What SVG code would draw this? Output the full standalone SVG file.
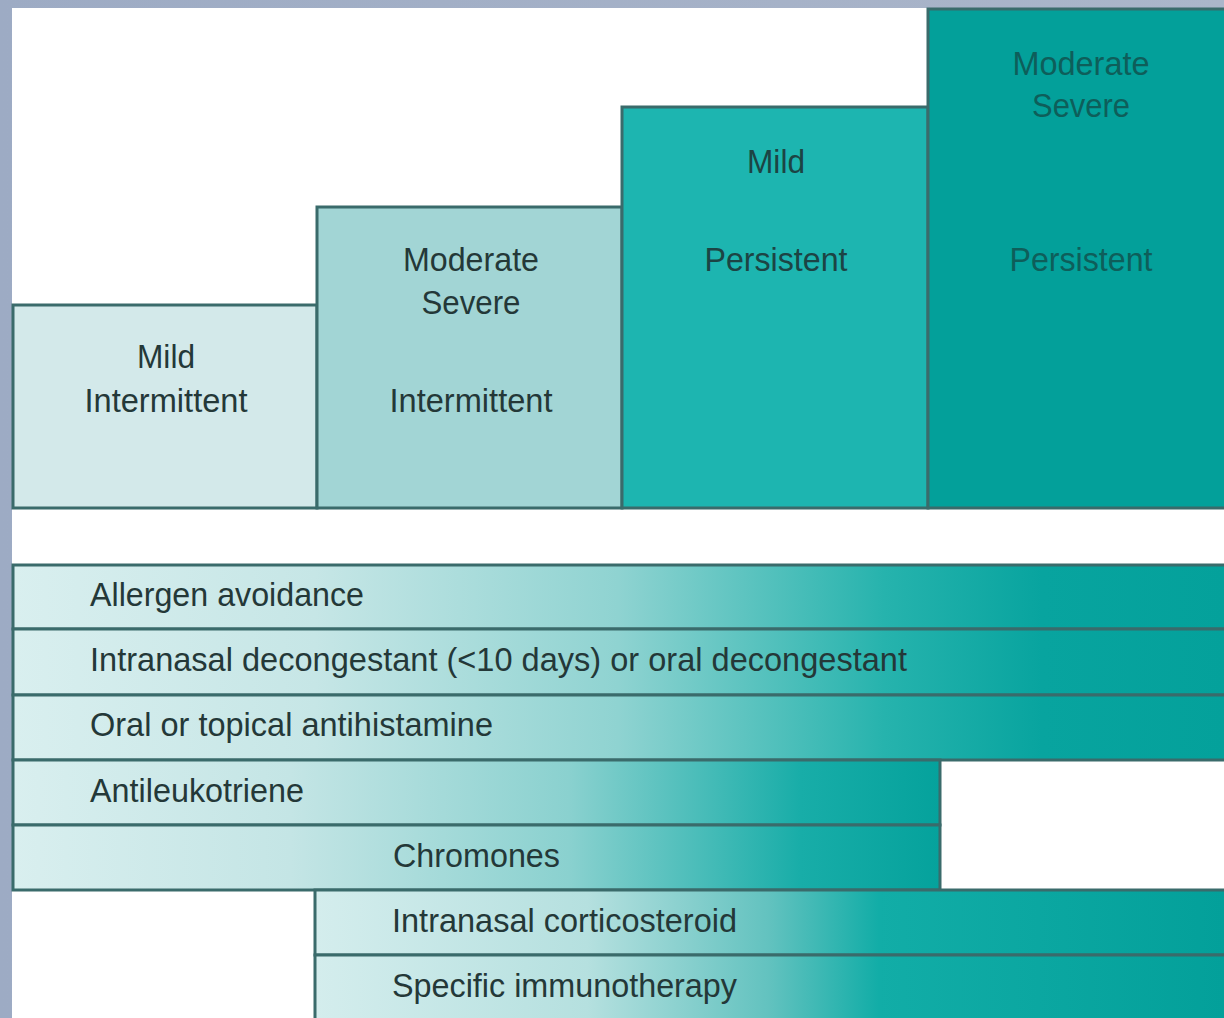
<svg xmlns="http://www.w3.org/2000/svg" width="1224" height="1018" viewBox="0 0 1224 1018">
<defs>
<linearGradient id="bg" x1="0" y1="0" x2="1" y2="0">
<stop offset="0" stop-color="#9dabc4"/><stop offset="1" stop-color="#abb6ca"/>
</linearGradient>
<linearGradient id="gFull" gradientUnits="userSpaceOnUse" x1="12" y1="0" x2="1224" y2="0">
<stop offset="0" stop-color="#d9efef"/><stop offset="0.25" stop-color="#c6e6e6"/><stop offset="0.5" stop-color="#8fd3d1"/><stop offset="0.72" stop-color="#26b3ad"/><stop offset="0.85" stop-color="#08a49f"/><stop offset="1" stop-color="#04a19b"/>
</linearGradient>
<linearGradient id="gShort" gradientUnits="userSpaceOnUse" x1="12" y1="0" x2="940" y2="0">
<stop offset="0" stop-color="#d9efef"/><stop offset="0.3" stop-color="#c4e5e5"/><stop offset="0.6" stop-color="#8ad1cf"/><stop offset="0.85" stop-color="#18ada8"/><stop offset="1" stop-color="#05a29c"/>
</linearGradient>
<linearGradient id="gLow" gradientUnits="userSpaceOnUse" x1="315" y1="0" x2="1224" y2="0">
<stop offset="0" stop-color="#d4eded"/><stop offset="0.3" stop-color="#b5e0df"/><stop offset="0.5" stop-color="#62c2bf"/><stop offset="0.62" stop-color="#12ada7"/><stop offset="1" stop-color="#03a09a"/>
</linearGradient>
<style>
.t{font-family:"Liberation Sans",Arial,sans-serif;font-size:34px;fill:#243838}
.c{text-anchor:middle}
.ln{stroke:#3a6b6b;stroke-width:3}
</style>
</defs>
<rect x="0" y="0" width="1224" height="1018" fill="url(#bg)"/>
<rect x="12" y="8" width="1212" height="1010" fill="#ffffff"/>

<g id="mild-intermittent">
<rect x="13" y="305" width="304" height="203" fill="#d3e9ea" class="ln"/>
<text class="t c" x="166" y="368" textLength="58" lengthAdjust="spacingAndGlyphs">Mild</text>
<text class="t c" x="166" y="412" textLength="163" lengthAdjust="spacingAndGlyphs">Intermittent</text>
</g>
<g id="moderate-intermittent">
<rect x="317" y="207" width="305" height="301" fill="#a2d5d5" class="ln"/>
<text class="t c" x="471" y="271" textLength="136" lengthAdjust="spacingAndGlyphs">Moderate</text>
<text class="t c" x="471" y="314" textLength="99" lengthAdjust="spacingAndGlyphs">Severe</text>
<text class="t c" x="471" y="412" textLength="163" lengthAdjust="spacingAndGlyphs">Intermittent</text>
</g>
<g id="mild-persistent">
<rect x="622" y="107" width="306" height="401" fill="#1db5b0" class="ln"/>
<text class="t c" x="776" y="173" textLength="58" lengthAdjust="spacingAndGlyphs" style="fill:#1c4444">Mild</text>
<text class="t c" x="776" y="271" textLength="143" lengthAdjust="spacingAndGlyphs" style="fill:#1c4444">Persistent</text>
</g>
<g id="moderate-persistent">
<rect x="928" y="9" width="300" height="499" fill="#03a09a" class="ln"/>
<text class="t c" x="1081" y="75" textLength="137" lengthAdjust="spacingAndGlyphs" style="fill:#0e5e5a">Moderate</text>
<text class="t c" x="1081" y="117" textLength="98" lengthAdjust="spacingAndGlyphs" style="fill:#0e5e5a">Severe</text>
<text class="t c" x="1081" y="271" textLength="143" lengthAdjust="spacingAndGlyphs" style="fill:#0e5e5a">Persistent</text>
</g>

<g id="allergen-avoidance">
<rect x="13" y="565" width="1215" height="64" fill="url(#gFull)" class="ln"/>
<text class="t" x="90" y="606" textLength="274" lengthAdjust="spacingAndGlyphs">Allergen avoidance</text>
</g>
<g id="decongestant">
<rect x="13" y="629" width="1215" height="66" fill="url(#gFull)" class="ln"/>
<text class="t" x="90" y="671" textLength="817" lengthAdjust="spacingAndGlyphs">Intranasal decongestant (&lt;10 days) or oral decongestant</text>
</g>
<g id="antihistamine">
<rect x="13" y="695" width="1215" height="65" fill="url(#gFull)" class="ln"/>
<text class="t" x="90" y="736" textLength="403" lengthAdjust="spacingAndGlyphs">Oral or topical antihistamine</text>
</g>
<g id="antileukotriene">
<rect x="13" y="760" width="927" height="65" fill="url(#gShort)" class="ln"/>
<text class="t" x="90" y="802" textLength="214" lengthAdjust="spacingAndGlyphs">Antileukotriene</text>
</g>
<g id="chromones">
<rect x="13" y="825" width="927" height="65" fill="url(#gShort)" class="ln"/>
<text class="t" x="393" y="867" textLength="167" lengthAdjust="spacingAndGlyphs">Chromones</text>
</g>
<g id="corticosteroid">
<rect x="315" y="890" width="913" height="65" fill="url(#gLow)" class="ln"/>
<text class="t" x="392" y="932" textLength="345" lengthAdjust="spacingAndGlyphs">Intranasal corticosteroid</text>
</g>
<g id="immunotherapy">
<rect x="315" y="955" width="913" height="66" fill="url(#gLow)" class="ln"/>
<text class="t" x="392" y="997" textLength="345" lengthAdjust="spacingAndGlyphs">Specific immunotherapy</text>
</g>
<g id="connectors"></g>
</svg>
